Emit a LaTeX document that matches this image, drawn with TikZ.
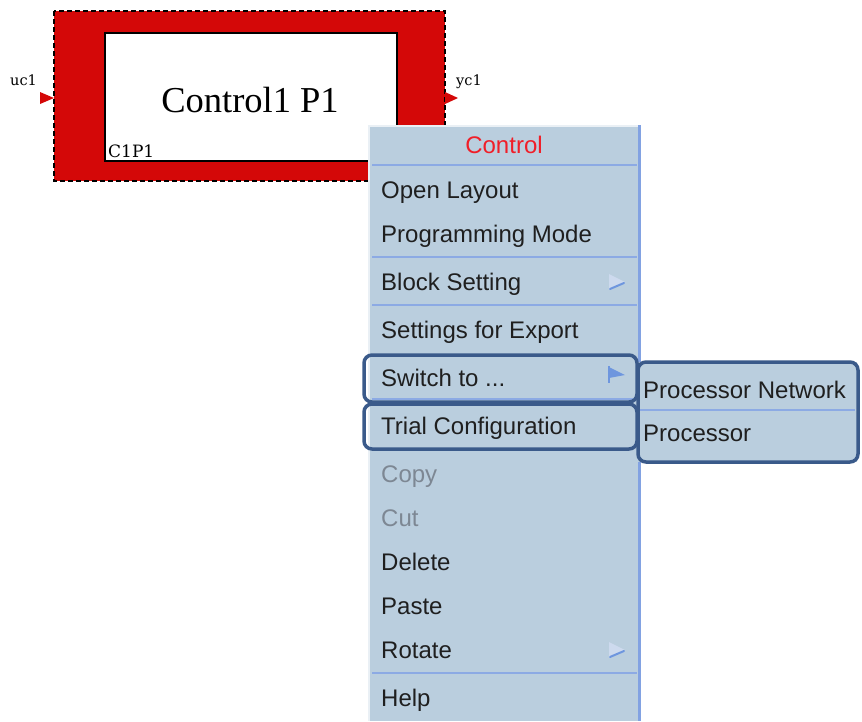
\documentclass[tikz,border=0pt]{standalone}
\usepackage{fontspec}
\setmainfont{Liberation Serif}
\newfontfamily\uifont{Liberation Sans}
\newfontfamily\blkfont{DejaVu Serif}
\definecolor{blkred}{RGB}{212,8,8}
\definecolor{menubg}{RGB}{186,206,222}
\definecolor{menusep}{RGB}{140,170,228}
\definecolor{menuedge}{RGB}{130,162,226}
\definecolor{hlblue}{RGB}{58,90,138}
\definecolor{ctlred}{RGB}{240,30,40}
\definecolor{dimtext}{RGB}{125,135,147}
\definecolor{arrowlt}{RGB}{205,218,238}
\definecolor{arrowdk}{RGB}{110,150,222}
\begin{document}
\begin{tikzpicture}[x=1pt,y=-1pt,
  item/.style={anchor=base west, inner sep=0pt, font=\uifont\fontsize{24}{28}\selectfont, text=black!88},
  dimitem/.style={item, text=dimtext},
  portlbl/.style={anchor=base west, inner sep=0pt, font=\blkfont\fontsize{14.5}{16}\selectfont},
  sepline/.style={menusep, line width=1.5pt},
  hlbox/.style={draw=hlblue, line width=3.5pt, rounded corners=8pt},
  porttip/.style={fill=blkred, draw=none}]
\useasboundingbox (0,0) rectangle (862,721);
\fill[white] (0,0) rectangle (862,721);

% ---- block Control1 P1 ----
\fill[blkred] (54,11) rectangle (445,181);
\draw[black, line width=1.5pt, dash pattern=on 5pt off 3pt] (54,11) rectangle (445,181);
\draw[fill=white, line width=1.5pt] (105,33) rectangle (397,161);
\node[anchor=base, inner sep=0pt, font=\fontsize{36.5}{40}\selectfont] (title) at (250,112) {Control1 P1};
\node[anchor=base west, inner sep=0pt, font=\blkfont\fontsize{17}{18}\selectfont] (tag) at (108,157) {C1P1};

% ports
\fill[porttip] (40,92) -- (54,98) -- (40,104) -- cycle;
\fill[porttip] (445,92) -- (458,98) -- (445,104) -- cycle;
\node[portlbl] (uc) at (10,85) {uc1};
\node[portlbl] (yc) at (456,85) {yc1};

% ---- context menu ----
\fill[menubg] (368,125) rectangle (641,721);
\draw[white!70!menubg, line width=1.2pt] (369,721) -- (369,126) -- (639,126);
\draw[menuedge, line width=2.5pt] (639.5,125) -- (639.5,721);

\node[anchor=base, inner sep=0pt, font=\uifont\fontsize{24}{28}\selectfont, text=ctlred] (hdr) at (504,153) {Control};
\draw[sepline] (372,165) -- (637,165);
\node[item] (open) at (381,198) {Open Layout};
\node[item] (prog) at (381,242) {Programming Mode};
\draw[sepline] (372,257) -- (637,257);
\node[item] (block) at (381,290) {Block Setting};
\draw[sepline] (372,305) -- (637,305);
\node[item] (export) at (381,338) {Settings for Export};
\node[item] (switch) at (381,386) {Switch to ...};
\draw[sepline] (372,399) -- (634,399);
\node[item] (trial) at (381,434) {Trial Configuration};
\node[dimitem] (copy) at (381,482) {Copy};
\node[dimitem] (cut) at (381,526) {Cut};
\node[item] (del) at (381,570) {Delete};
\node[item] (paste) at (381,614) {Paste};
\node[item] (rot) at (381,658) {Rotate};
\draw[sepline] (372,673) -- (637,673);
\node[item] (help) at (381,706) {Help};

% submenu arrows
\foreach \yy in {282,650}{
  \fill[arrowlt] (609,\yy-8) -- (625,\yy) -- (609,\yy+8) -- cycle;
  \draw[arrowdk, line width=2pt, line cap=round] (610,\yy+7) -- (624,\yy+1);
}
\draw[arrowdk, line width=2pt] (609,366) -- (609,383);
\fill[arrowdk] (609,367) -- (625,375) -- (609,378) -- cycle;

% ---- submenu ----
\fill[menubg] (638,362) rectangle (857,462);
\draw[sepline] (640,410) -- (855,410);
\node[item] (pnet) at (643,398) {Processor Network};
\node[item] (proc) at (643,441) {Processor};

% highlight frames
\draw[hlbox] (364,355) rectangle (637,402);
\draw[hlbox] (364,404) rectangle (637,449);
\draw[hlbox] (638,362) rectangle (858,462);
\end{tikzpicture}
\end{document}
